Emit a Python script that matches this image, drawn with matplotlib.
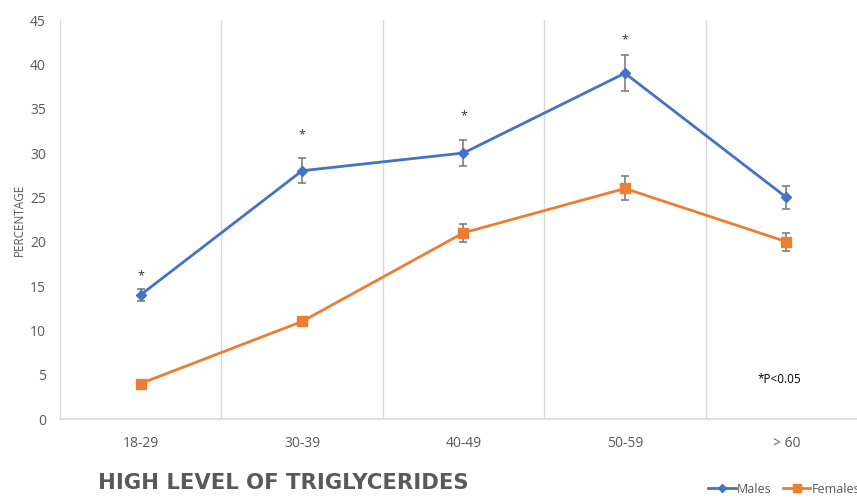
import matplotlib
matplotlib.use("Agg")
import matplotlib.pyplot as plt
from matplotlib.lines import Line2D
import numpy as np

categories = ["18-29", "30-39", "40-49", "50-59", "> 60"]
males = [14, 28, 30, 39, 25]
males_err = [0.7, 1.4, 1.5, 2.0, 1.3]
females = [4, 11, 21, 26, 20]
females_err = [0.2, 0.4, 1.0, 1.35, 1.0]
star_y = [16.1, 32.1, 34.2, 42.8]  # asterisk positions above male points
star_idx = [0, 1, 2, 3]

plt.rcParams['font.family'] = ['Open Sans', 'DejaVu Sans']

fig = plt.figure(figsize=(8.57, 4.98), dpi=100)
ax = fig.add_axes([60/857, (498-419)/498, (867-60)/857, (419-20)/498])

x = np.arange(len(categories))
blue = "#4472C4"
orange = "#ED7D31"
errc = "#7F7F7F"

ax.errorbar(x, males, yerr=males_err, color=blue, marker="D", markersize=5,
            linewidth=2, ecolor=errc, elinewidth=1.2, capsize=3, capthick=1.2,
            zorder=3)
ax.errorbar(x, females, yerr=females_err, color=orange, marker="s", markersize=7,
            linewidth=2, ecolor=errc, elinewidth=1.2, capsize=3, capthick=1.2,
            zorder=3)

for i, sy in zip(star_idx, star_y):
    ax.text(x[i], sy, "*", ha="center", va="center", fontsize=9, color="#333333")

ax.set_xlim(-0.5, len(categories) - 0.5)
ax.set_ylim(0, 45)
ax.set_yticks(np.arange(0, 46, 5))
ax.set_xticks(x)
ax.set_xticklabels(categories)
for b in np.arange(0.5, len(categories) - 0.5, 1):
    ax.axvline(b, color="#D9D9D9", linewidth=1, zorder=0)

for s in ["top", "right"]:
    ax.spines[s].set_visible(False)
ax.spines["left"].set_color("#D9D9D9")
ax.spines["bottom"].set_color("#D9D9D9")
ax.spines["bottom"].set_linewidth(1.2)
ax.tick_params(axis="both", length=0, labelcolor="#595959", labelsize=10)
ax.tick_params(axis="x", pad=12)
ax.tick_params(axis="y", pad=10)
ax.set_ylabel("PERCENTAGE", fontsize=8.5, color="#595959", labelpad=3)

fig.text(757/857, 1 - 379/498, "*P<0.05", fontsize=8.5,
         color="#000000", ha="left", va="center")
fig.text(98/857, 1 - 483/498, "HIGH LEVEL OF TRIGLYCERIDES", fontsize=15.2,
         fontweight="bold", color="#595959", ha="left", va="center",
         family="DejaVu Sans")

handles = [Line2D([], [], color=blue, marker="D", markersize=4, linewidth=2),
           Line2D([], [], color=orange, marker="s", markersize=6, linewidth=2)]
fig.legend(handles, ["Males", "Females"], loc="center left",
           bbox_to_anchor=(697/857, 1 - 489/498), ncol=2,
           frameon=False, fontsize=9, labelcolor="#595959",
           handlelength=2.2, handletextpad=0.1, columnspacing=0.9)

fig.savefig("out.png", dpi=100)
